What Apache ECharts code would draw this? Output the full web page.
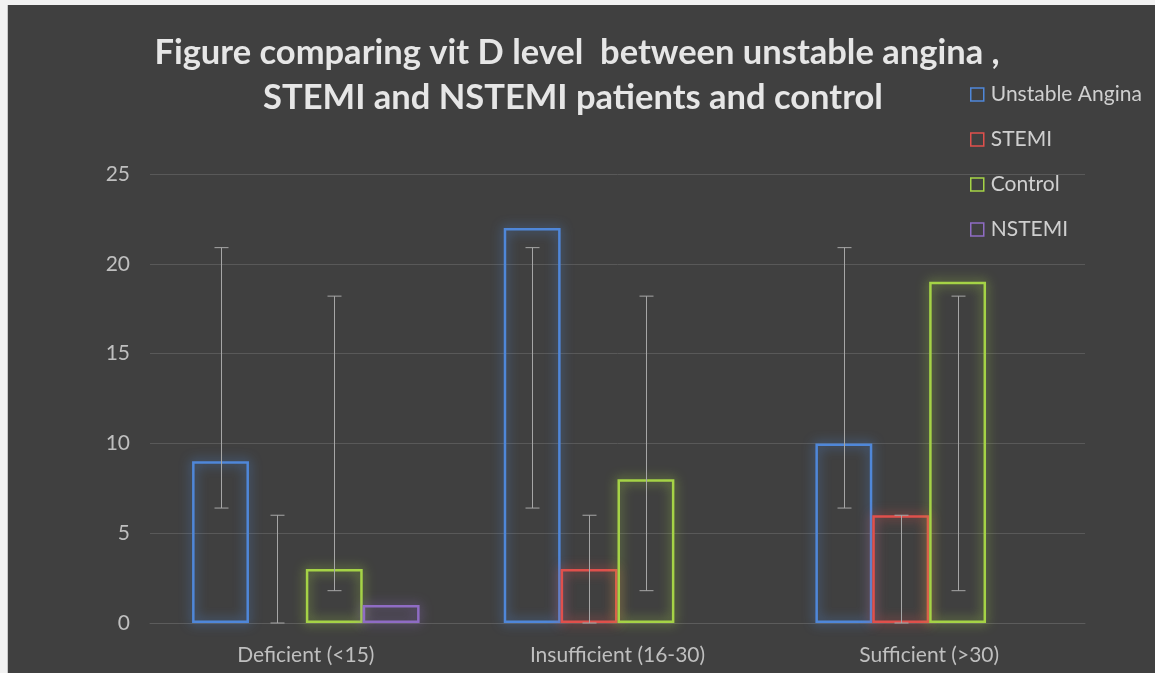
<!DOCTYPE html>
<html>
<head>
<meta charset="utf-8">
<script src="https://cdn.jsdelivr.net/npm/echarts@6/dist/echarts.min.js"></script>
<style>
html,body{margin:0;padding:0;width:1155px;height:673px;overflow:hidden;background:#f2f2f2;}
#frame{position:absolute;left:7px;top:5px;width:1148px;height:668px;background:#c8c8c8;}
#chart{position:absolute;left:8px;top:5px;width:1147px;height:668px;background:#404040;}
</style>
</head>
<body>
<div id="frame"></div>
<div id="chart"></div>
<script>
const categories = ['Deficient (<15)', 'Insufficient (16-30)', 'Sufficient (>30)'];
const seriesNames = ['Unstable Angina', 'STEMI', 'Control', 'NSTEMI'];
const unstableAngina = [9, 22, 10];
const stemi = [0, 3, 6];
const control = [3, 8, 19];
const nstemi = [1, 0, 0];
// error bar ranges [low, high] per category
const unstableAnginaErr = [[6.4, 20.9], [6.4, 20.9], [6.4, 20.9]];
const stemiErr = [[0, 6.0], [0, 6.0], [0, 6.0]];
const controlErr = [[1.8, 18.2], [1.8, 18.2], [1.8, 18.2]];
const yTicks = [0, 5, 10, 15, 20, 25];

const colors = ['#4f87d9', '#e0504c', '#a5d346', '#8f6cc4'];
const glow = ['rgba(79,135,217,0.9)', 'rgba(224,80,76,0.9)', 'rgba(165,211,70,0.9)', 'rgba(143,108,196,0.9)'];
const values = [unstableAngina, stemi, control, nstemi];
const errs = [unstableAnginaErr, stemiErr, controlErr];
const catGap = 0.27;
const nBars = 4;
const FONT = 'Lato';

const chart = echarts.init(document.getElementById('chart'));

const barSeries = seriesNames.map((name, i) => ({
  name: name,
  type: 'bar',
  // zero-height bars are not drawn in the original
  data: values[i].map(v => (v === 0 ? '-' : v)),
  barGap: '0%',
  barCategoryGap: (catGap * 100) + '%',
  itemStyle: {
    color: 'rgba(0,0,0,0)',
    borderColor: colors[i],
    borderWidth: 2.5,
    shadowBlur: 12,
    shadowColor: glow[i]
  },
  emphasis: {disabled: true},
  z: 2
}));

const errSeries = errs.map((arr, i) => ({
  name: seriesNames[i] + ' err',
  type: 'custom',
  data: arr.map((r, c) => [c, r[0], r[1]]),
  encode: {x: 0, y: [1, 2]},
  z: 5,
  silent: true,
  renderItem: function (params, api) {
    const c = api.value(0);
    const band = api.size([1, 0])[0];
    const bw = band * (1 - catGap) / nBars;
    const off = -band * (1 - catGap) / 2 + (i + 0.5) * bw;
    const pLow = api.coord([c, api.value(1)]);
    const pHigh = api.coord([c, api.value(2)]);
    const x = Math.round(pLow[0] + off) + 0.5;
    const hw = 7;
    const st = {stroke: '#a6a6a6', lineWidth: 1};
    return {
      type: 'group',
      children: [
        {type: 'line', shape: {x1: x, y1: pLow[1], x2: x, y2: pHigh[1]}, style: st},
        {type: 'line', shape: {x1: x - hw, y1: pHigh[1], x2: x + hw, y2: pHigh[1]}, style: st},
        {type: 'line', shape: {x1: x - hw, y1: pLow[1], x2: x + hw, y2: pLow[1]}, style: st}
      ]
    };
  }
}));

const option = {
  backgroundColor: '#404040',
  animation: false,
  title: [
    {
      text: 'Figure comparing vit D level  between unstable angina ,',
      left: 564, top: 25, textAlign: 'center',
      textStyle: {color: '#e6e6e6', fontFamily: FONT, fontWeight: 'bold', fontSize: 34.5}
    },
    {
      text: 'STEMI and NSTEMI patients and control',
      left: 560, top: 70, textAlign: 'center',
      textStyle: {color: '#e6e6e6', fontFamily: FONT, fontWeight: 'bold', fontSize: 34.5}
    }
  ],
  legend: {
    orient: 'vertical',
    left: 957, top: 74,
    itemWidth: 13, itemHeight: 13,
    itemGap: 24,
    icon: 'rect',
    textStyle: {color: '#cfcfcf', fontFamily: FONT, fontSize: 21, padding: [0, 0, 0, 2]},
    data: seriesNames.map((n, i) => ({
      name: n,
      itemStyle: {color: 'rgba(0,0,0,0)', borderColor: colors[i], borderWidth: 1.5, shadowBlur: 0}
    }))
  },
  grid: {left: 142, right: 70, top: 169, bottom: 50, containLabel: false},
  xAxis: {
    type: 'category',
    data: categories,
    axisLine: {show: true, lineStyle: {color: '#5c5c5c', width: 1}},
    axisTick: {show: false},
    axisLabel: {color: '#bfbfbf', fontFamily: FONT, fontSize: 21, margin: 22}
  },
  yAxis: {
    type: 'value',
    min: yTicks[0], max: yTicks[yTicks.length - 1], interval: 5,
    axisLine: {show: false},
    axisTick: {show: false},
    splitLine: {lineStyle: {color: '#595959', width: 1}},
    axisLabel: {color: '#bfbfbf', fontFamily: FONT, fontSize: 21, margin: 20}
  },
  series: barSeries.concat(errSeries)
};
chart.setOption(option);
</script>
</body>
</html>
